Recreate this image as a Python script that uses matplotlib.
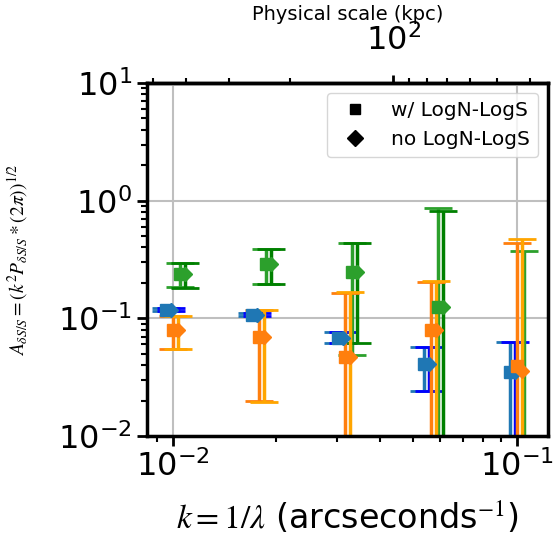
import numpy as np
import matplotlib
matplotlib.use('Agg')
import matplotlib.pyplot as plt
from matplotlib.lines import Line2D
from matplotlib.ticker import FixedLocator, NullFormatter

plt.rcParams['mathtext.fontset'] = 'stix'

# k bins (arcsec^-1) and conversion to physical scale
k_bins = np.array([0.01, 0.0178, 0.0316, 0.0562, 0.1])
kpc_per_arcsec = 4.38
kpc_major = [100]
kpc_minor = [40, 50, 60, 70, 80, 90, 200, 300, 400, 500]

# per band x shift so the points do not overlap, diamonds a bit further right
band_shift = {'blue': 0.955, 'green': 1.05, 'orange': 1.0}
diamond_shift = 1.035

# w/ LogN-LogS (squares)
blue_w = [0.118, 0.107, 0.068, 0.041, 0.035]
blue_w_lo = [0.1145, 0.104, 0.062, 0.024, 0.005]
blue_w_hi = [0.1215, 0.110, 0.076, 0.0575, 0.063]
green_w = [0.237, 0.290, 0.247, 0.124, 0.008]
green_w_lo = [0.183, 0.196, 0.0486, 0.005, 0.004]
green_w_hi = [0.297, 0.385, 0.435, 0.862, 0.374]
orange_w = [0.080, 0.069, 0.047, 0.080, 0.039]
orange_w_lo = [0.055, 0.0199, 0.005, 0.005, 0.005]
orange_w_hi = [0.104, 0.118, 0.163, 0.205, 0.435]

# no LogN-LogS (diamonds)
blue_no = [0.118, 0.107, 0.068, 0.041, 0.035]
blue_no_lo = [0.1145, 0.104, 0.062, 0.024, 0.005]
blue_no_hi = [0.1215, 0.110, 0.076, 0.0575, 0.063]
green_no = [0.237, 0.290, 0.247, 0.124, np.nan]
green_no_lo = [0.180, 0.196, 0.062, 0.005, np.nan]
green_no_hi = [0.294, 0.385, 0.435, 0.818, np.nan]
orange_no = [0.080, 0.069, 0.047, 0.080, 0.036]
orange_no_lo = [0.055, 0.0193, 0.005, 0.005, 0.005]
orange_no_hi = [0.104, 0.118, 0.169, 0.209, 0.473]

bands = {
    'blue': (blue_w, blue_w_lo, blue_w_hi, blue_no, blue_no_lo, blue_no_hi),
    'green': (green_w, green_w_lo, green_w_hi, green_no, green_no_lo, green_no_hi),
    'orange': (orange_w, orange_w_lo, orange_w_hi, orange_no, orange_no_lo, orange_no_hi),
}


def k_to_kpc(k):
    k = np.asarray(k, dtype=float)
    with np.errstate(divide='ignore', invalid='ignore'):
        return kpc_per_arcsec / k


fig = plt.figure(figsize=(5.54, 5.4), dpi=100)
ax = fig.add_axes([0.2648, 0.1926, 0.7244, 0.6537])

for name, (yw, lw, hw, yn, ln, hn) in bands.items():
    yw, lw, hw = np.array(yw), np.array(lw), np.array(hw)
    yn, ln, hn = np.array(yn), np.array(ln), np.array(hn)
    xw = k_bins * band_shift[name]
    xn = xw * diamond_shift
    ax.errorbar(xw, yw, yerr=[yw - lw, hw - yw], fmt='s', color='tab:' + name,
                ecolor='tab:' + name, ms=8, elinewidth=2.5, capsize=10, capthick=2)
    ax.errorbar(xn, yn, yerr=[yn - ln, hn - yn], fmt='D', color='tab:' + name,
                ecolor=name, ms=7.5, elinewidth=2.5, capsize=10, capthick=2)

ax.set_xscale('log')
ax.set_yscale('log')
ax.set_xlim(0.0084, 0.1233)
ax.set_ylim(0.01, 10)
ax.grid(True, which='major', color='#bfbfbf', linewidth=1.5)

for s in ax.spines.values():
    s.set_linewidth(2.5)
ax.tick_params(which='major', length=7, width=2, labelsize=23)
ax.tick_params(which='minor', length=4.5, width=1.5)

ax.set_xlabel(r'$k = 1/\lambda$ (arcseconds$^{-1}$)', fontsize=24, labelpad=12)
ax.set_ylabel(r'$A_{\delta S/S} = (k^2 P_{\delta S/S} * (2\pi))^{1/2}$', fontsize=14)
ax.yaxis.set_label_coords(-0.291, 0.5)

# physical scale on top
secax = ax.secondary_xaxis('top', functions=(k_to_kpc, k_to_kpc))
secax.xaxis.set_major_locator(FixedLocator(kpc_major))
secax.xaxis.set_minor_locator(FixedLocator(kpc_minor))
secax.xaxis.set_minor_formatter(NullFormatter())
secax.set_xlabel('Physical scale (kpc)', fontsize=14, labelpad=3)
secax.tick_params(which='major', length=6, width=2, labelsize=23, pad=12.5)
secax.tick_params(which='minor', length=3.5, width=1.5)
secax.spines['top'].set_linewidth(2.5)

handles = [Line2D([], [], marker='s', ls='none', color='k', ms=7),
           Line2D([], [], marker='D', ls='none', color='k', ms=8)]
ax.legend(handles, ['w/ LogN-LogS', 'no LogN-LogS'], loc='upper right', fontsize=14.5)

fig.savefig('out.png', dpi=100)
